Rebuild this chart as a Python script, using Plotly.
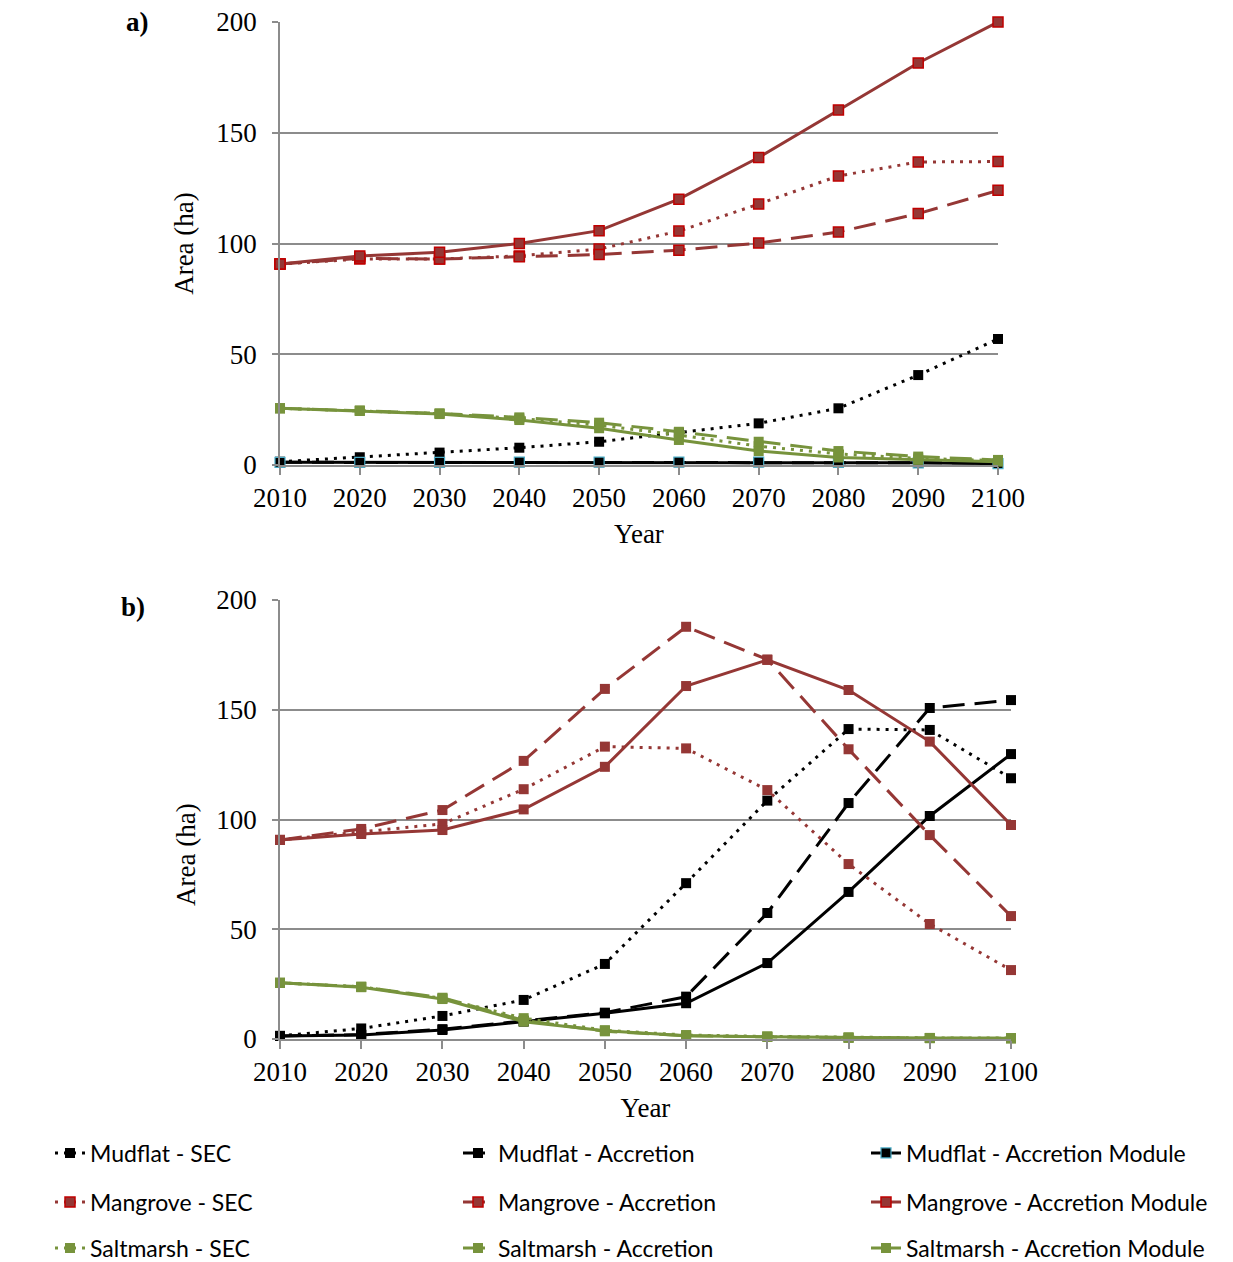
import plotly.graph_objects as go

# Page body adds an 8px margin; lay out in page pixels and convert.
OFF = 8
W, H = 1233 - OFF, 1262 - OFF

years = [2010, 2020, 2030, 2040, 2050, 2060, 2070, 2080, 2090, 2100]
y_ticks = [0, 50, 100, 150, 200]

# Panel a)
a_mud_sec = [1.5, 3.5, 5.6, 7.8, 10.5, 14.6, 18.8, 25.6, 40.6, 56.9]
a_mud_acc = [1.2, 1.2, 1.3, 1.3, 1.3, 1.3, 1.3, 1.3, 1.2, 1.0]
a_mud_mod = [1.2, 1.2, 1.2, 1.3, 1.3, 1.3, 1.3, 1.2, 1.0, 0.6]
a_man_sec = [90.7, 93.0, 93.0, 94.4, 97.5, 105.6, 117.8, 130.5, 136.8, 137.0]
a_man_acc = [90.7, 93.3, 93.0, 94.0, 95.0, 97.0, 100.2, 105.2, 113.5, 124.0]
a_man_mod = [90.7, 94.4, 96.0, 100.0, 105.8, 120.0, 138.8, 160.3, 181.5, 200.0]
a_salt_sec = [25.6, 24.5, 23.2, 21.0, 18.0, 13.5, 8.5, 5.0, 3.0, 2.0]
a_salt_acc = [25.6, 24.6, 23.3, 21.5, 19.1, 15.0, 10.5, 6.3, 3.8, 2.3]
a_salt_mod = [25.6, 24.4, 23.0, 20.3, 16.6, 11.3, 6.3, 3.4, 2.3, 1.5]

# Panel b)
b_mud_sec = [1.4, 4.8, 10.5, 17.8, 34.2, 71.0, 108.6, 141.2, 140.8, 118.8]
b_mud_acc = [1.4, 2.0, 4.5, 8.2, 12.0, 19.3, 57.4, 107.5, 150.8, 154.4]
b_mud_mod = [1.4, 1.8, 4.1, 7.9, 11.7, 16.3, 34.6, 67.0, 101.6, 129.8]
b_man_sec = [90.7, 94.5, 98.0, 113.8, 133.2, 132.4, 113.4, 79.7, 52.4, 31.4]
b_man_acc = [90.7, 95.7, 104.3, 126.7, 159.5, 187.8, 172.9, 132.0, 92.9, 56.0]
b_man_mod = [90.7, 93.4, 95.2, 104.6, 124.0, 160.8, 172.7, 159.0, 135.5, 97.5]
b_salt_sec = [25.6, 23.8, 18.5, 9.5, 4.0, 1.8, 1.2, 0.7, 0.5, 0.4]
b_salt_acc = [25.6, 23.8, 18.8, 8.5, 3.5, 1.5, 1.0, 0.6, 0.4, 0.3]
b_salt_mod = [25.6, 23.6, 18.2, 7.9, 3.8, 1.5, 1.0, 0.6, 0.4, 0.3]

names = [
    "Mudflat - SEC", "Mudflat - Accretion", "Mudflat - Accretion Module",
    "Mangrove - SEC", "Mangrove - Accretion", "Mangrove - Accretion Module",
    "Saltmarsh - SEC", "Saltmarsh - Accretion", "Saltmarsh - Accretion Module",
]

BLACK = "#000000"
MANG = "#953735"
MANG_EDGE = "#C00000"
SALT = "#77933C"
CYAN = "#4BACC6"
GRID = "#8C8C8C"

DOT = "3px,6px"
DASH = "22px,10px"

styles = [
    dict(color=BLACK, dash=DOT, edge=BLACK, ew=0),
    dict(color=BLACK, dash=DASH, edge=BLACK, ew=0),
    dict(color=BLACK, dash="solid", edge=CYAN, ew=1.2),
    dict(color=MANG, dash=DOT, edge=MANG_EDGE, ew=1.5),
    dict(color=MANG, dash=DASH, edge=MANG_EDGE, ew=1.5),
    dict(color=MANG, dash="solid", edge=MANG_EDGE, ew=1.5),
    dict(color=SALT, dash=DOT, edge=SALT, ew=0),
    dict(color=SALT, dash=DASH, edge=SALT, ew=0),
    dict(color=SALT, dash="solid", edge=SALT, ew=0),
]
legend_of = ["legend", "legend", "legend",
             "legend2", "legend2", "legend2",
             "legend3", "legend3", "legend3"]
# legend column widths (text part) for the three columns
col_w = [363, 363, 322]

panel_a = [a_mud_sec, a_mud_acc, a_mud_mod, a_man_sec, a_man_acc, a_man_mod,
           a_salt_sec, a_salt_acc, a_salt_mod]
panel_b = [b_mud_sec, b_mud_acc, b_mud_mod, b_man_sec, b_man_acc, b_man_mod,
           b_salt_sec, b_salt_acc, b_salt_mod]


def px_x(p):
    return (p - OFF) / W


def px_y(p):
    return 1 - (p - OFF) / H


fig = go.Figure()

for i, (nm, st, vals) in enumerate(zip(names, styles, panel_a)):
    fig.add_trace(go.Scatter(
        x=years, y=vals, name=nm, mode="lines+markers",
        xaxis="x", yaxis="y", legend=legend_of[i], showlegend=True,
        legendwidth=col_w[i % 3],
        line=dict(color=st["color"], width=3, dash=st["dash"]),
        marker=dict(symbol="square", size=10, color=st["color"],
                    line=dict(color=st["edge"], width=st["ew"])),
        cliponaxis=False,
    ))

for i, (nm, st, vals) in enumerate(zip(names, styles, panel_b)):
    fig.add_trace(go.Scatter(
        x=years, y=vals, name=nm, mode="lines+markers",
        xaxis="x2", yaxis="y2", showlegend=False,
        line=dict(color=st["color"], width=3, dash=st["dash"]),
        marker=dict(symbol="square", size=10, color=st["color"]),
        cliponaxis=False,
    ))

SERIF = "Liberation Serif"
tickfont = dict(family=SERIF, size=27, color="black")
titlefont = dict(family=SERIF, size=27, color="black")


def xax(domain, anchor):
    return dict(
        domain=domain, anchor=anchor, range=[2010, 2100],
        tickmode="array", tickvals=years, ticktext=[str(y) for y in years],
        ticks="outside", ticklen=8, tickwidth=1.5, tickcolor=GRID,
        showline=True, linecolor=GRID, linewidth=1.5,
        showgrid=False, zeroline=False, tickfont=tickfont,
        ticklabeloverflow="allow",
        title=dict(text="Year", font=titlefont, standoff=12),
        automargin=False,
    )


def yax(domain, anchor, title):
    return dict(
        domain=domain, anchor=anchor, range=[0, 200],
        tickmode="array", tickvals=y_ticks,
        ticks="outside", ticklen=6, tickwidth=1.5, tickcolor=GRID,
        showline=True, linecolor=GRID, linewidth=1.5,
        showgrid=True, gridcolor=GRID, gridwidth=1.5, zeroline=False,
        tickfont=tickfont, ticklabelstandoff=10, ticklabeloverflow="allow",
        title=dict(text=title, font=titlefont),
        automargin=False,
    )


legend_common = dict(
    orientation="h", xanchor="left", yanchor="middle",
    font=dict(family="Lato", size=23, color="black"),
    bgcolor="rgba(0,0,0,0)", borderwidth=0, itemwidth=30,
    traceorder="normal",
)

fig.update_layout(
    width=W, height=H,
    margin=dict(l=0, r=0, t=0, b=0, autoexpand=False),
    paper_bgcolor="white", plot_bgcolor="white",
    xaxis=xax([px_x(280), px_x(998)], "y"),
    yaxis=yax([px_y(465), px_y(22)], "x", "Area (ha)"),
    xaxis2=xax([px_x(280), px_x(1011)], "y2"),
    yaxis2=yax([px_y(1039), px_y(600)], "x2", ""),
    legend=dict(legend_common, x=px_x(50), y=px_y(1153)),
    legend2=dict(legend_common, x=px_x(50), y=px_y(1202)),
    legend3=dict(legend_common, x=px_x(50), y=px_y(1248)),
    annotations=[
        dict(text="<b>a)</b>", x=px_x(137), y=px_y(22), xref="paper", yref="paper",
             showarrow=False, xanchor="center", yanchor="middle",
             font=dict(family=SERIF, size=27, color="black")),
        dict(text="<b>b)</b>", x=px_x(133), y=px_y(607), xref="paper", yref="paper",
             showarrow=False, xanchor="center", yanchor="middle",
             font=dict(family=SERIF, size=27, color="black")),
        # y-axis title of panel b (sits lower than centre in the original)
        dict(text="Area (ha)", x=px_x(186), y=px_y(855), xref="paper", yref="paper",
             showarrow=False, textangle=-90, xanchor="center", yanchor="middle",
             font=titlefont),
    ],
)

fig.write_html("out.html")
